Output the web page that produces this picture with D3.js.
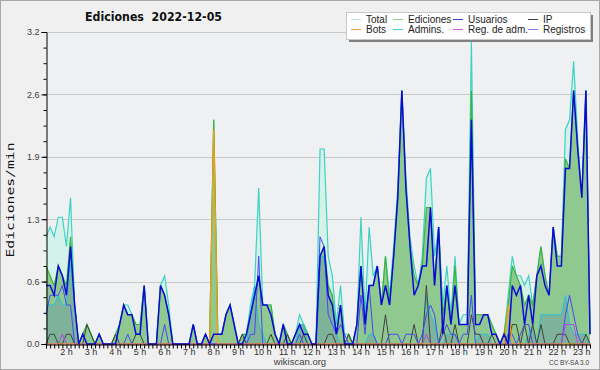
<!DOCTYPE html>
<html><head><meta charset="utf-8">
<script src="https://cdn.jsdelivr.net/npm/d3@7/dist/d3.min.js"></script>
<style>body{margin:0;background:#f0f0f0}</style>
</head><body>
<svg id="c" width="600" height="370"></svg>
<script>
// time of first sample (minutes after 00:00) and sampling step
const startMinute = 70, stepMinutes = 10;

const total = [1.1,1.2,1.1,1.3,1.3,1.0,1.5,0.4,0,0.1,
0.2,0.1,0,0.1,0,0,0,0.1,0.2,0.4,
0.4,0.3,0.2,0.2,0.6,0,0,0,0.6,0.7,
0.4,0,0,0,0,0,0.2,0,0,0.1,
0,2.3,0.1,0.1,0.3,0.4,0.2,0,0.1,0.1,
0.4,0.6,1.6,0.4,0.4,0.4,0.1,0,0.2,0.1,
0,0.1,0.3,0.2,0.1,0,0,2.0,2.0,0.9,
0.7,0.2,0.6,0.1,0.1,0,0.2,1.3,0.3,1.2,
0.7,0.8,0.4,0.9,0.5,1.0,1.6,2.6,1.7,1.1,
0.8,0.6,0.9,1.7,1.8,0.9,1.2,0.4,0.8,0.3,
0.9,0.2,0.3,0.3,3.1,0.3,0.3,0.3,0.3,0.2,
0.1,0,0.1,0.5,0.9,0.7,0.7,0.6,0.7,0.4,
0.7,1.0,0.7,0.5,1.2,0.9,0.9,2.2,2.3,2.9,
2.1,1.5,2.6,0.1];

const ediciones = [0.8,0.7,0.6,0.8,0.7,0.6,1.1,0.4,0,0.1,
0.2,0.1,0,0.1,0,0,0,0.1,0.2,0.4,
0.3,0.3,0.2,0.2,0.6,0,0,0,0.6,0.5,
0.3,0,0,0,0,0,0.2,0,0,0.1,
0,2.3,0.1,0.1,0.3,0.4,0.2,0,0.1,0.1,
0.3,0.5,0.7,0.4,0.4,0.4,0.1,0,0.2,0.1,
0,0.1,0.2,0.2,0.1,0,0,0.9,1.0,0.6,
0.5,0.1,0.4,0,0.1,0,0.2,0.8,0.2,0.6,
0.6,0.8,0.4,0.9,0.4,0.9,1.5,2.6,1.6,1.0,
0.7,0.6,0.8,1.4,1.4,0.6,1.2,0.3,0.6,0.2,
0.8,0.2,0.2,0.2,2.6,0.3,0.3,0.3,0.3,0.2,
0.1,0,0.1,0.4,0.8,0.7,0.6,0.4,0.5,0.4,
0.7,1.0,0.7,0.5,1.2,0.9,0.9,1.9,1.8,2.6,
2.0,1.5,2.6,0.1];

const usuarios = [0.6,0.6,0.5,0.8,0.7,0.5,1.0,0.4,0,0.1,
0,0,0,0.1,0,0,0,0,0.2,0.4,
0.3,0.3,0.1,0.1,0.6,0,0,0,0.6,0.5,
0.3,0,0,0,0,0,0.2,0,0,0.1,
0,0.1,0.1,0.1,0.3,0.4,0.2,0,0,0.1,
0.3,0.5,0.7,0.4,0.4,0.3,0.1,0,0.2,0,
0,0.1,0.2,0.1,0.1,0,0,0.9,1.0,0.5,
0.4,0.1,0.4,0,0,0,0.2,0.8,0.2,0.6,
0.6,0.8,0.4,0.6,0.4,0.9,1.5,2.6,1.6,1.0,
0.5,0.6,0.8,0.8,1.4,0.6,1.2,0.1,0.6,0.2,
0.6,0.2,0.2,0.2,2.3,0.2,0.2,0.3,0.3,0.1,
0.1,0,0.1,0,0.6,0.5,0.6,0.2,0.5,0.2,
0.7,0.8,0.6,0.5,1.2,0.8,0.8,1.8,1.8,2.6,
2.0,1.5,2.6,0.1];

const ip = [0,0.1,0.1,0,0,0.1,0.1,0,0,0,
0.2,0.1,0,0,0,0,0,0.1,0,0,
0,0,0.1,0.1,0,0,0,0,0,0,
0,0,0,0,0,0,0,0,0,0,
0,0,0,0,0,0,0,0,0.1,0,
0,0,0,0,0,0.1,0,0,0,0.1,
0,0,0,0.1,0,0,0,0,0,0.1,
0.1,0,0,0,0.1,0,0,0,0,0,
0,0,0,0.3,0,0,0,0,0,0,
0.2,0,0,0.6,0,0,0,0.2,0,0,
0.2,0,0,0,0.3,0.1,0.1,0,0,0.1,
0,0,0,0,0.2,0.2,0,0.2,0,0.2,
0,0.2,0,0,0,0.1,0.1,0.1,0,0,
0,0,0.1,0];

const bots = [0,0,0,0,0,0,0,0,0,0,
0,0,0,0,0,0,0,0,0,0,
0,0,0,0,0,0,0,0,0,0,
0,0,0,0,0,0,0,0,0,0,
0,2.2,0,0,0,0,0,0,0,0,
0,0,0,0,0,0,0,0,0,0,
0,0,0,0,0,0,0,0,0,0,
0,0,0,0,0,0,0,0,0,0,
0,0,0,0,0,0,0,0,0,0,
0,0,0,0,0,0,0,0,0,0,
0,0,0,0,0,0,0,0,0,0,
0,0,0,0.4,0,0,0,0,0,0,
0,0,0,0,0,0,0,0,0,0,
0,0,0,0];

const admins = [0.4,0.4,0.4,0.5,0.4,0.4,0.9,0.4,0,0,
0,0,0,0,0,0,0,0,0,0,
0,0,0,0,0,0,0,0,0,0,
0,0,0,0,0,0,0,0,0,0,
0,0,0,0,0,0,0,0,0,0,
0.3,0.6,0.2,0.1,0,0,0,0,0,0,
0,0,0.2,0.2,0,0,0,0.9,0.9,0.5,
0.4,0.1,0,0,0,0,0,0,0,0.1,
0.1,0,0,0,0,0,0,0,0,0,
0,0,0,0.5,0.3,0.2,0,0,0.1,0.1,
0.1,0,0,0,0,0,0.1,0.1,0.1,0,
0,0,0,0.1,0,0,0,0,0.1,0.2,
0,0.3,0.3,0.3,0.3,0.3,0.3,0.5,0.2,0.1,
0.1,0.1,0.1,0];

const regAdm = [0,0,0,0,0.1,0,0,0,0,0,
0,0,0,0,0,0,0,0,0,0,
0,0,0,0,0,0,0,0,0,0,
0,0,0,0,0,0,0,0,0,0,
0,0,0,0,0,0,0,0,0,0,
0,0,0,0,0,0,0,0,0,0,
0,0,0,0,0,0,0,0,0,0,
0,0,0,0,0,0,0,0,0,0,
0,0,0,0,0,0,0,0,0,0,
0,0,0,0.1,0,0,0,0,0,0,
0,0,0,0,0,0,0,0,0,0,
0,0,0,0,0,0,0,0,0,0,
0,0,0,0,0,0,0,0.2,0.2,0.2,
0,0,0,0];

const registros = [0.3,0.5,0.5,0.5,0.6,0.4,0.4,0,0,0,
0,0,0,0,0,0,0,0,0,0,
0.1,0,0,0,0,0,0,0,0,0.2,
0,0,0,0,0,0,0,0,0,0,
0,0,0,0,0,0,0,0,0,0,
0.1,0.1,0.9,0,0,0,0,0,0,0,
0,0,0.1,0,0,0,0,1.1,1.0,0.3,
0.2,0.1,0.2,0.1,0,0,0,0.5,0.1,0.6,
0.1,0,0,0,0.1,0.1,0.1,0,0.1,0.1,
0.1,0,0.1,0.3,0.4,0.3,0,0.1,0.2,0.1,
0.1,0,0.1,0.1,0.5,0,0,0,0,0,
0,0,0,0.1,0.1,0,0.1,0.2,0.2,0,
0,0,0,0,0,0,0,0.3,0.5,0.3,
0.1,0,0,0];

const yTickValues = [0, 0.64, 1.28, 1.92, 2.56, 3.2];
const yTickLabels = ["0.0","0.6","1.3","1.9","2.6","3.2"];
const hourTicks = [2,3,4,5,6,7,8,9,10,11,12,13,14,15,16,17,18,19,20,21,22,23];
const hourLabels = hourTicks.map(h => h + " h");

const legendItems = [
  {name:"Total", color:"#b4e8e4"},
  {name:"Ediciones", color:"#8cd08c"},
  {name:"Usuarios", color:"#4040e0"},
  {name:"IP", color:"#404040"},
  {name:"Bots", color:"#f4a040"},
  {name:"Admins.", color:"#40c8d8"},
  {name:"Reg. de adm.", color:"#d050e0"},
  {name:"Registros", color:"#8080f0"}
];

const W = 600, H = 370;
const pLeft = 46, pRight = 590, pTop = 32, pBottom = 344;
const svg = d3.select("#c");
const times = total.map((_, i) => startMinute + i * stepMinutes);

const x = d3.scaleLinear().domain([times[0], times[times.length-1]]).range([pLeft, pRight]);
const y = d3.scaleLinear().domain([0, 3.2]).range([pBottom, pTop]);

svg.append("rect").attr("x",0.5).attr("y",0.5).attr("width",W-1).attr("height",H-1)
  .attr("fill","#f0f0f0").attr("stroke","#a8a8a8");
svg.append("rect").attr("x",pLeft).attr("y",pTop).attr("width",pRight-pLeft).attr("height",pBottom-pTop)
  .attr("fill","#eef0f2");

// grid
svg.append("g").selectAll("line").data(yTickValues.slice(1)).join("line")
  .attr("x1",pLeft).attr("x2",pRight).attr("y1",d=>Math.round(y(d))+0.5).attr("y2",d=>Math.round(y(d))+0.5)
  .attr("stroke","#c8c8c8").attr("stroke-width",1);

const area = vals => d3.area().x((d,i)=>x(times[i])).y0(y(0)).y1((d)=>y(d))(vals);
const line = vals => d3.line().x((d,i)=>x(times[i])).y((d)=>y(d))(vals);

const plot = svg.append("g");
plot.append("path").attr("d", area(total)).attr("fill","#d4f1ea");
plot.append("path").attr("d", line(total)).attr("fill","none").attr("stroke","#3ed2c4").attr("stroke-width",1.2);
plot.append("path").attr("d", area(ediciones)).attr("fill","#90c990");
plot.append("path").attr("d", area(admins)).attr("fill","rgba(70,110,190,0.24)");
plot.append("path").attr("d", line(ediciones)).attr("fill","none").attr("stroke","#3cb43c").attr("stroke-width",1.2);
plot.append("path").attr("d", line(admins)).attr("fill","none").attr("stroke","#22c4dc").attr("stroke-width",1);
plot.append("path").attr("d", line(ip)).attr("fill","none").attr("stroke","#404040").attr("stroke-width",1);
plot.append("path").attr("d", line(registros)).attr("fill","none").attr("stroke","#4848f4").attr("stroke-width",1);
plot.append("path").attr("d", line(regAdm)).attr("fill","none").attr("stroke","#c040e0").attr("stroke-width",1);
plot.append("path").attr("d", line(bots)).attr("fill","none").attr("stroke","#ff9a10").attr("stroke-width",1.2);
plot.append("path").attr("d", line(usuarios)).attr("fill","none").attr("stroke","#0a0ad8").attr("stroke-width",1.5);

// y axis
const yAxis = d3.axisLeft(y).tickValues(yTickValues).tickFormat((d,i)=>yTickLabels[i]).tickSize(5).tickPadding(2);
const gy = svg.append("g").attr("transform",`translate(${pLeft+0.5},0)`).call(yAxis);
gy.select(".domain").attr("stroke","#000");
gy.selectAll(".tick line").attr("stroke","#000");
gy.selectAll("text").attr("font-family","Liberation Sans, Arial, sans-serif").attr("font-size",9).attr("fill","#404040");
const yMinor = d3.range(0, 3.2001, 0.16);
svg.append("g").attr("transform",`translate(${pLeft+0.5},0)`)
  .call(d3.axisLeft(y).tickValues(yMinor).tickFormat("").tickSize(3)).select(".domain").remove();

// x axis
const minorTimes = d3.range(times[0], times[times.length-1]+1, 10);
const gx = svg.append("g").attr("transform",`translate(0,${pBottom+0.5})`)
  .call(d3.axisBottom(x).tickValues(minorTimes).tickFormat("").tickSize(4).tickSizeOuter(0));
gx.select(".domain").attr("stroke","#000");
svg.append("g").selectAll("text").data(hourTicks).join("text")
  .attr("x",d=>x(d*60)).attr("y",355).attr("text-anchor","middle")
  .attr("font-family","Liberation Sans, Arial, sans-serif").attr("font-size",9).attr("fill","#303030")
  .text((d,i)=>hourLabels[i]);

// title
svg.append("text").attr("x",85).attr("y",21).style("white-space","pre")
  .attr("font-family","DejaVu Sans, sans-serif").attr("font-weight","bold").attr("font-size",12.5)
  .attr("textLength",137).attr("lengthAdjust","spacingAndGlyphs").attr("fill","#111")
  .text("Ediciones  2022-12-05");

// y title
svg.append("text").attr("transform","translate(14,200) rotate(-90)").attr("text-anchor","middle")
  .attr("font-family","DejaVu Sans Mono, monospace").attr("font-size",11)
  .attr("textLength",115).attr("lengthAdjust","spacingAndGlyphs").attr("fill","#111")
  .text("Ediciones/min");

// footer
svg.append("text").attr("x",300).attr("y",365).attr("text-anchor","middle")
  .attr("font-family","Liberation Sans, Arial, sans-serif").attr("font-size",9.5).attr("fill","#404040")
  .text("wikiscan.org");
svg.append("text").attr("x",589).attr("y",365).attr("text-anchor","end")
  .attr("font-family","Liberation Sans, Arial, sans-serif").attr("font-size",7).attr("fill","#404040")
  .attr("textLength",40).attr("lengthAdjust","spacingAndGlyphs")
  .text("CC BY-SA 3.0");

// legend
const lg = svg.append("g");
lg.append("rect").attr("x",349).attr("y",15).attr("width",244).attr("height",27).attr("fill","#808080");
lg.append("rect").attr("x",346.5).attr("y",12.5).attr("width",244).attr("height",27)
  .attr("fill","#fff").attr("stroke","#c8c8c8");
const colX = [351, 393, 453, 528];
legendItems.forEach((it, k) => {
  const cx = colX[k % 4], cy = k < 4 ? 19.5 : 29.5;
  lg.append("line").attr("x1",cx).attr("x2",cx+10).attr("y1",cy).attr("y2",cy).attr("stroke",it.color).attr("stroke-width",1);
  lg.append("text").attr("x",cx+15).attr("y",cy+3.5)
    .attr("font-family","Liberation Sans, Arial, sans-serif").attr("font-size",10).attr("fill","#222")
    .text(it.name);
});
</script>
</body></html>
